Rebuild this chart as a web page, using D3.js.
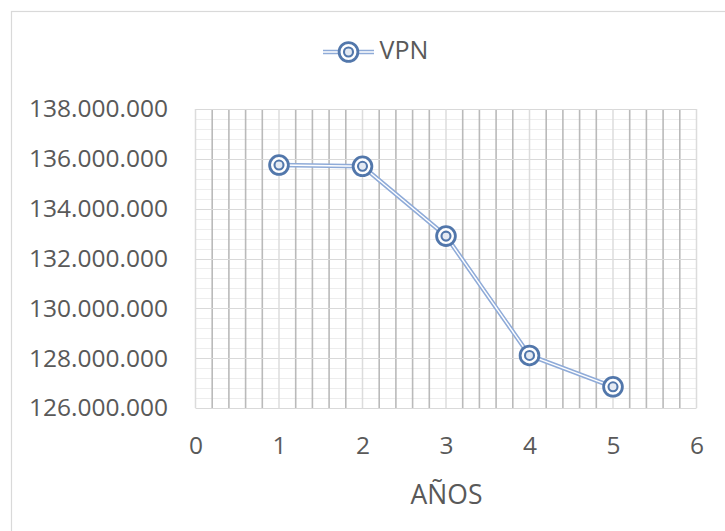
<!DOCTYPE html>
<html>
<head>
<meta charset="utf-8">
<script src="https://cdn.jsdelivr.net/npm/d3@7"></script>
<style>
  body { margin: 0; background: #fff; }
  text { font-family: "Open Sans", sans-serif; fill: #595959; }
</style>
</head>
<body>
<svg id="chart" width="725" height="531"></svg>
<script>
// Series: net present value (VPN) by year
const years = [1, 2, 3, 4, 5];
const vpn = [135750000, 135700000, 132900000, 128110000, 126850000];
const seriesName = "VPN";
const xTitle = "AÑOS";
const xTicks = [0, 1, 2, 3, 4, 5, 6];
const yTicks = [126000000, 128000000, 130000000, 132000000, 134000000, 136000000, 138000000];

const svg = d3.select("#chart");
const plot = { left: 195.5, right: 696.5, top: 109, bottom: 408 };

const x = d3.scaleLinear().domain([0, 6]).range([plot.left, plot.right]);
const y = d3.scaleLinear().domain([126000000, 138000000]).range([plot.bottom, plot.top]);

const locale = d3.formatLocale({ decimal: ",", thousands: ".", grouping: [3], currency: ["$", ""] });
const fmt = locale.format(",.0f");

const lineColor = "#8fabd8";
const markerColor = "#5277ab";

// Chart frame
svg.append("rect")
  .attr("x", 11.5).attr("y", 11.5)
  .attr("width", 740).attr("height", 540)
  .attr("fill", "#fff").attr("stroke", "#d9d9d9").attr("stroke-width", 1.2);

// Gridlines
const grid = svg.append("g");
const minorX = d3.range(0, 6.0001, 0.2).filter(v => Math.abs(v - Math.round(v)) > 1e-6);
const minorY = d3.range(126000000, 138000001, 400000).filter(v => v % 2000000 !== 0);

grid.selectAll(".hminor").data(minorY).join("line")
  .attr("x1", plot.left).attr("x2", plot.right)
  .attr("y1", d => Math.round(y(d)) + 0.5).attr("y2", d => Math.round(y(d)) + 0.5)
  .attr("stroke", "#ededed").attr("stroke-width", 1);

grid.selectAll(".vminor").data(minorX).join("line")
  .attr("x1", d => x(d)).attr("x2", d => x(d))
  .attr("y1", plot.top).attr("y2", plot.bottom)
  .attr("stroke", "#bababa").attr("stroke-width", 1.6);

grid.selectAll(".hmajor").data(yTicks).join("line")
  .attr("x1", plot.left).attr("x2", plot.right)
  .attr("y1", d => Math.round(y(d)) + 0.5).attr("y2", d => Math.round(y(d)) + 0.5)
  .attr("stroke", "#d9d9d9").attr("stroke-width", 1.2);

grid.selectAll(".vmajor").data(xTicks).join("line")
  .attr("x1", d => x(d)).attr("x2", d => x(d))
  .attr("y1", plot.top).attr("y2", plot.bottom)
  .attr("stroke", "#dcdcdc").attr("stroke-width", 1.5);

// Axes (labels only)
const yAxis = svg.append("g")
  .attr("transform", `translate(${plot.left},0)`)
  .call(d3.axisLeft(y).tickValues(yTicks).tickFormat(fmt).tickSize(0).tickPadding(27.5));
yAxis.select(".domain").remove();
yAxis.selectAll("text").style("font-size", "24.5px").attr("fill", "#595959");

const xAxis = svg.append("g")
  .attr("transform", `translate(0,${plot.bottom})`)
  .call(d3.axisBottom(x).tickValues(xTicks).tickFormat(d3.format("d")).tickSize(0).tickPadding(28.5));
xAxis.select(".domain").remove();
xAxis.selectAll("text").style("font-size", "24.5px").attr("fill", "#595959");

svg.append("text")
  .attr("x", 446.5).attr("y", 503.5)
  .attr("text-anchor", "middle")
  .style("font-size", "26.5px")
  .text(xTitle);

// Double-stroke line
const pts = years.map((d, i) => [x(d), y(vpn[i])]);
const line = d3.line();
svg.append("path").attr("d", line(pts))
  .attr("fill", "none").attr("stroke", lineColor).attr("stroke-width", 4.5)
  .attr("stroke-linejoin", "round");
svg.append("path").attr("d", line(pts))
  .attr("fill", "none").attr("stroke", "#fff").attr("stroke-width", 1.4)
  .attr("stroke-linejoin", "round");

// Double-ring markers
function marker(g, cx, cy) {
  g.append("circle").attr("cx", cx).attr("cy", cy).attr("r", 9.4)
    .attr("fill", "#fff").attr("stroke", markerColor).attr("stroke-width", 2.8);
  g.append("circle").attr("cx", cx).attr("cy", cy).attr("r", 4.5)
    .attr("fill", "#e4eaf3").attr("stroke", markerColor).attr("stroke-width", 2.1);
}
const mg = svg.append("g");
pts.forEach(p => marker(mg, p[0], p[1]));

// Legend
const lg = svg.append("g");
lg.append("line").attr("x1", 323).attr("x2", 374).attr("y1", 52).attr("y2", 52)
  .attr("stroke", lineColor).attr("stroke-width", 4.5);
lg.append("line").attr("x1", 323).attr("x2", 374).attr("y1", 52).attr("y2", 52)
  .attr("stroke", "#fff").attr("stroke-width", 1.4);
marker(lg, 348.5, 52);
lg.append("text").attr("x", 379.5).attr("y", 58.5)
  .style("font-size", "25px").text(seriesName);
</script>
</body>
</html>
